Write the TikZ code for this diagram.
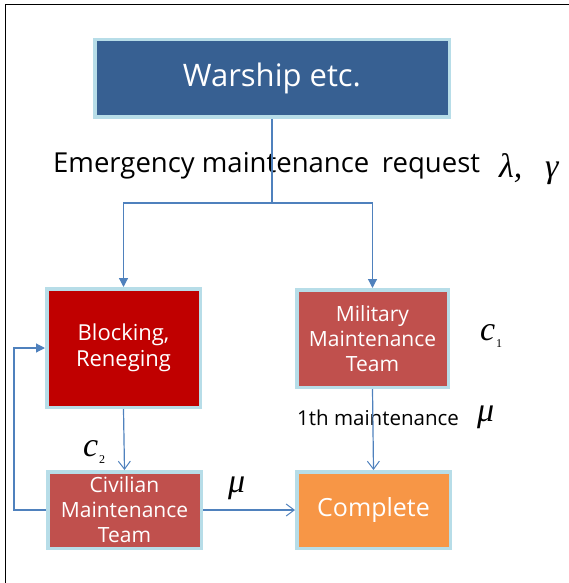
\documentclass[tikz,border=0pt]{standalone}
\usepackage{fontspec}
\setmainfont{Open Sans}
\newfontfamily\symfont{Liberation Serif}
\usetikzlibrary{arrows.meta}
\definecolor{edgeblue}{HTML}{B7DDE8}
\definecolor{shipblue}{HTML}{376092}
\definecolor{blockred}{HTML}{C00000}
\definecolor{teamred}{HTML}{C0504D}
\definecolor{doneorange}{HTML}{F79646}
\definecolor{linkblue}{HTML}{4F81BD}
\tikzset{
  box/.style={draw=edgeblue, line width=3.5pt, text=white, align=center, inner sep=0pt, rectangle},
  link/.style={draw=linkblue, line width=1.2pt},
  filledtip/.style={-{Triangle[length=9pt,width=9pt]}},
  opentip/.style={-{Straight Barb[length=8pt,width=12pt,line width=1pt]}},
  lbl/.style={inner sep=0pt, text=black, anchor=base west},
  symlbl/.style={inner sep=0pt, text=black, anchor=base west, font=\symfont\itshape\fontsize{34}{36}\selectfont},
  sublbl/.style={inner sep=0pt, text=black, anchor=base west, font=\symfont\fontsize{12}{13}\selectfont},
}
\begin{document}
\begin{tikzpicture}[x=1pt,y=-1pt]
\useasboundingbox (0,0) rectangle (569,583);
\draw[black, line width=1pt] (5,583) -- (5,5) -- (569,5);

\node[box, fill=shipblue, minimum width=354.5pt, minimum height=77.5pt,
  font=\fontsize{31}{35}\selectfont] (W) at (272,78.5) {Warship etc.};
\node[box, fill=blockred, minimum width=153.5pt, minimum height=118.5pt,
  font=\fontsize{22}{26}\selectfont] (B) at (123.5,348) {Blocking,\\Reneging};
\node[box, fill=teamred, minimum width=151.5pt, minimum height=97.5pt,
  font=\fontsize{21}{25}\selectfont] (M) at (372.5,338.5) {Military\\Maintenance\\Team};
\node[box, fill=teamred, minimum width=153.5pt, minimum height=76.5pt,
  font=\fontsize{21}{25}\selectfont] (C) at (124.5,510) {Civilian\\Maintenance\\Team};
\node[box, fill=doneorange, minimum width=153.5pt, minimum height=76.5pt,
  font=\fontsize{25}{30}\selectfont] (D) at (373.5,510) {Complete};

\coordinate (sp) at (272,203);
\coordinate (fb) at (14,0);

\node[lbl, font=\fontsize{27.5}{30}\selectfont] (req) at (53,172)
  {Emergency maintenance\hspace{0.2em} request};
\node[symlbl, font=\symfont\itshape\fontsize{34}{36}\selectfont] (lam) at (499,177) {λ,};
\node[symlbl, font=\symfont\itshape\fontsize{34}{36}\selectfont] (gam) at (545,177) {γ};
\node[lbl, font=\fontsize{20.5}{24}\selectfont] (first) at (297,425)
  {1th maintenance};
\node[symlbl] (mu1) at (477,421) {μ};
\node[symlbl] (c1) at (480,340) {c};
\node[sublbl] (s1) at ([xshift=0.5pt]c1.base east) [yshift=-7pt] {1};
\node[symlbl] (c2) at (83,456) {c};
\node[sublbl] (s2) at ([xshift=0.5pt]c2.base east) [yshift=-7pt] {2};
\node[symlbl] (mu2) at (228,492) {μ};

\draw[link] (W.south) -- (sp);
\draw[link, filledtip] (sp) -| (B.north);
\draw[link, filledtip] (sp) -| (M.north);
\draw[link, opentip] (M.south) -- (D.north);
\draw[link, opentip] (B.south) -- (C.north);
\draw[link, opentip] (C.east) -- (D.west);
\draw[link, filledtip] (C.west) -- (C.west -| fb) |- (B.west);
\end{tikzpicture}
\end{document}
